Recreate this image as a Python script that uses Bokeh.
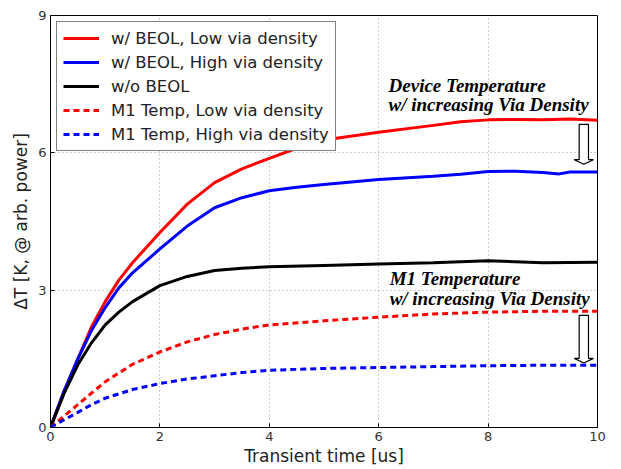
from bokeh.plotting import figure
from bokeh.models import Legend, LegendItem, FixedTicker, Range1d, Label
from bokeh.embed import file_html
from bokeh.resources import INLINE

# ---- data ----
x_red = [0, 0.25, 0.5, 0.75, 1, 1.25, 1.5, 2, 2.5, 3, 3.5, 4, 4.5, 5, 6, 7, 7.5, 8, 8.5, 9, 9.5, 10]
y_red = [0, 0.8, 1.5, 2.2, 2.75, 3.22, 3.6, 4.26, 4.88, 5.35, 5.65, 5.88, 6.1, 6.28, 6.45, 6.6, 6.68, 6.72, 6.73, 6.72, 6.74, 6.71]

x_blue = [0, 0.25, 0.5, 0.75, 1, 1.25, 1.5, 2, 2.5, 3, 3.5, 4, 4.5, 5, 6, 7, 7.5, 8, 8.5, 9, 9.3, 9.5, 10]
y_blue = [0, 0.8, 1.5, 2.12, 2.62, 3.05, 3.38, 3.9, 4.4, 4.8, 5.02, 5.17, 5.25, 5.31, 5.42, 5.49, 5.53, 5.59, 5.6, 5.57, 5.54, 5.58, 5.58]

x_black = [0, 0.25, 0.5, 0.75, 1, 1.25, 1.5, 2, 2.5, 3, 3.5, 4, 5, 6, 7, 8, 9, 10]
y_black = [0, 0.75, 1.37, 1.85, 2.24, 2.52, 2.75, 3.1, 3.3, 3.43, 3.48, 3.51, 3.54, 3.57, 3.6, 3.64, 3.6, 3.61]

x_m1_low = [0, 0.25, 0.5, 0.75, 1, 1.5, 2, 2.5, 3, 3.5, 4, 5, 6, 7, 8, 9, 10]
y_m1_low = [0, 0.25, 0.5, 0.75, 1.0, 1.38, 1.65, 1.87, 2.03, 2.15, 2.24, 2.33, 2.41, 2.48, 2.52, 2.54, 2.54]

x_m1_high = [0, 0.25, 0.5, 0.75, 1, 1.5, 2, 2.5, 3, 3.5, 4, 5, 6, 7, 8, 9, 10]
y_m1_high = [0, 0.17, 0.33, 0.5, 0.64, 0.83, 0.96, 1.06, 1.13, 1.2, 1.25, 1.29, 1.31, 1.33, 1.35, 1.36, 1.36]

labels = ["w/ BEOL, Low via density", "w/ BEOL, High via density", "w/o BEOL",
          "M1 Temp, Low via density", "M1 Temp, High via density"]
x_ticks = [0, 2, 4, 6, 8, 10]
y_ticks = [0, 3, 6, 9]

# annotation arrows (data units): x centre, shaft top, head base, tip
arrow_dev = (9.75, 6.62, 5.85, 5.75)
arrow_m1 = (9.75, 2.45, 1.51, 1.41)

p = figure(width=621, height=469, output_backend="svg", toolbar_location=None,
           x_range=Range1d(0, 10), y_range=Range1d(0, 9),
           min_border_left=50, min_border_right=24, min_border_top=15, min_border_bottom=42)
p.background_fill_color = "white"
p.border_fill_color = "white"
p.outline_line_color = "black"
p.outline_line_width = 1

r1 = p.line(x_red, y_red, line_color="#ff0000", line_width=3)
r2 = p.line(x_blue, y_blue, line_color="#0000ff", line_width=3)
r3 = p.line(x_black, y_black, line_color="black", line_width=3)
r4 = p.line(x_m1_low, y_m1_low, line_color="#ff0000", line_width=3, line_dash="6 4")
r5 = p.line(x_m1_high, y_m1_high, line_color="#0000ff", line_width=3, line_dash="6 4")

# hollow block arrows
def block_arrow(a):
    xc, top, base, tip = a
    sw = 0.085
    hw = 0.175
    xs = [xc - sw, xc + sw, xc + sw, xc + hw, xc, xc - hw, xc - sw]
    ys = [top, top, base, base, tip, base, base]
    p.patch(xs, ys, fill_color="white", line_color="black", line_width=1.2)

block_arrow(arrow_dev)
block_arrow(arrow_m1)

ann_font = "Liberation Serif"
for txt, xx, yy in [("Device Temperature", 6.18, 7.46), ("w/ increasing Via Density", 6.18, 7.06),
                    ("M1 Temperature", 6.2, 3.25), ("w/ increasing Via Density", 6.2, 2.82)]:
    p.add_layout(Label(x=xx, y=yy, text=txt, text_font=ann_font, text_font_style="bold italic",
                       text_font_size="19px", text_color="black", text_baseline="middle"))

# axes
for ax in (p.xaxis[0], p.yaxis[0]):
    ax.axis_line_color = "black"
    ax.major_tick_in = 4
    ax.major_tick_out = 0
    ax.minor_tick_line_color = None
    ax.major_tick_line_color = "black"
    ax.major_label_text_font = "DejaVu Sans"
    ax.major_label_text_font_size = "13px"
    ax.major_label_text_color = "#333333"
    ax.axis_label_text_font = "DejaVu Sans"
    ax.axis_label_text_font_size = "17px"
    ax.axis_label_text_font_style = "normal"
    ax.axis_label_text_color = "#222222"
p.xaxis.ticker = FixedTicker(ticks=x_ticks)
p.yaxis.ticker = FixedTicker(ticks=y_ticks)
p.xaxis.axis_label = "Transient time [us]"
p.yaxis.axis_label = "\u0394T [K, @ arb. power]"
p.xaxis.major_label_standoff = 4
p.yaxis.major_label_standoff = 4
p.xaxis.axis_label_standoff = 2
p.yaxis.axis_label_standoff = 4

# grid
p.xgrid.ticker = FixedTicker(ticks=x_ticks)
p.ygrid.ticker = FixedTicker(ticks=y_ticks)
for g in (p.xgrid[0], p.ygrid[0]):
    g.grid_line_color = "#9a9a9a"
    g.grid_line_dash = "1 3"
    g.grid_line_width = 1

legend = Legend(items=[LegendItem(label=l, renderers=[r]) for l, r in zip(labels, [r1, r2, r3, r4, r5])],
                location="top_left")
legend.margin = 6
legend.padding = 6
legend.spacing = 4
legend.label_height = 20
legend.glyph_height = 20
legend.glyph_width = 36
legend.label_standoff = 12
legend.label_text_font = "DejaVu Sans"
legend.label_text_font_size = "16.5px"
legend.label_text_color = "#222222"
legend.border_line_color = "black"
legend.border_line_width = 1
legend.background_fill_color = "white"
legend.background_fill_alpha = 1
p.add_layout(legend)

open("out.html", "w").write(file_html(p, INLINE))
